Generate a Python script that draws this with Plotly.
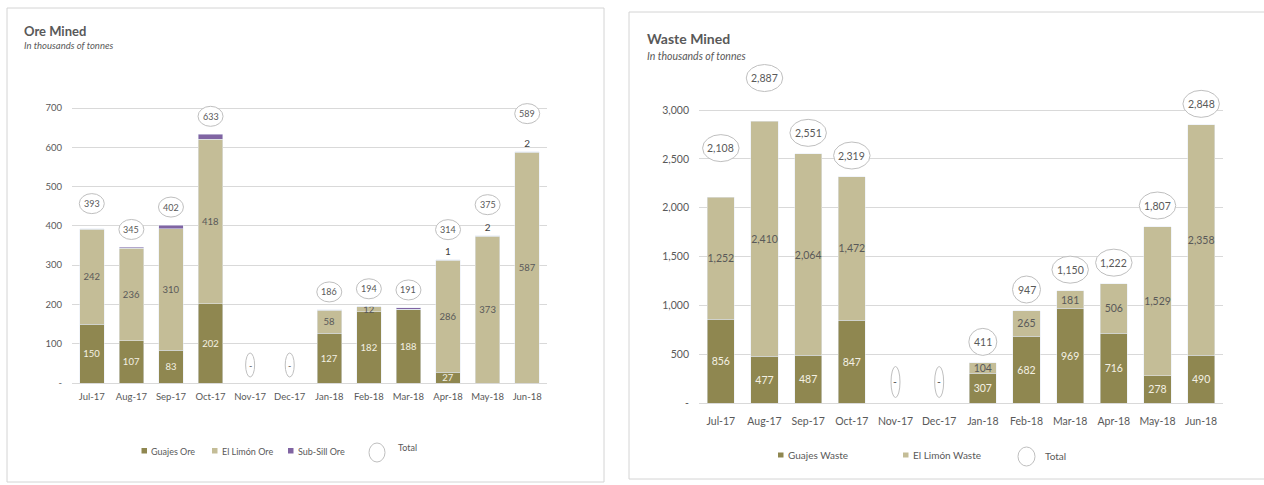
import plotly.graph_objects as go

# ---------------- data ----------------
months = ["Jul-17", "Aug-17", "Sep-17", "Oct-17", "Nov-17", "Dec-17",
          "Jan-18", "Feb-18", "Mar-18", "Apr-18", "May-18", "Jun-18"]

guajes_ore = [150, 107, 83, 202, 0, 0, 127, 182, 188, 27, 0, 0]
el_limon_ore = [242, 236, 310, 418, 0, 0, 58, 12, 0, 286, 373, 587]
sub_sill_ore = [1, 2, 9, 13, 0, 0, 1, 0, 3, 1, 2, 2]
ore_totals = [393, 345, 402, 633, 0, 0, 186, 194, 191, 314, 375, 589]

guajes_waste = [856, 477, 487, 847, 0, 0, 307, 682, 969, 716, 278, 490]
el_limon_waste = [1252, 2410, 2064, 1472, 0, 0, 104, 265, 181, 506, 1529, 2358]
waste_totals = [2108, 2887, 2551, 2319, 0, 0, 411, 947, 1150, 1222, 1807, 2848]

ore_yticks = [0, 100, 200, 300, 400, 500, 600, 700]
waste_yticks = [0, 500, 1000, 1500, 2000, 2500, 3000]

# months whose Sub-Sill value is printed above the bar
subsill_labelled = ["Apr-18", "May-18", "Jun-18"]

# ---------------- layout constants ----------------
W, H = 1264, 485
FONT = "Lato, Carlito, Calibri, sans-serif"
GREY_TXT = "#595959"
DARK_TXT = "#404040"
GRID = "#D9D9D9"
BORDER = "#D4D4D4"
C_GUAJES = "#8F8750"
C_LIMON = "#C4BD97"
C_SUBSILL = "#8064A2"
ELLIPSE_LINE = "#BFBFBF"
INBAR_LIGHT = "#F4F1E4"

# pixel geometry of the two plot areas
ORE = dict(left=72, right=547, zero=383, top_tick=108, ymax=780)
WST = dict(left=699, right=1223, zero=403, top_tick=110, ymax=3600)

# vertical lift (px) of the total bubbles above the bar tops
ORE_LIFT_DEFAULT = 18
ORE_LIFT = {"Jul-17": 25, "Apr-18": 30, "May-18": 31, "Jun-18": 38}
WST_LIFT_DEFAULT = 21
WST_LIFT = {"Jul-17": 49, "Aug-17": 43}


def fx(px):
    return px / W


def fy(py):
    return 1 - py / H


def fmt(v):
    return f"{v:,}" if v else "-"


def seg_text(vals):
    return [f"{v:,}" if v else "" for v in vals]


def domain_y(g, top_val):
    ppu = (g["zero"] - g["top_tick"]) / top_val
    top_px = g["zero"] - g["ymax"] * ppu
    return [fy(g["zero"]), fy(top_px)]


fig = go.Figure()

bar_common = dict(textposition="inside", insidetextanchor="middle", textangle=0,
                  constraintext="none", showlegend=False, hoverinfo="x+y+name")

# ---------------- Ore Mined ----------------
fig.add_trace(go.Bar(x=months, y=guajes_ore, name="Guajes Ore", marker_color=C_GUAJES,
                     text=seg_text(guajes_ore),
                     textfont=dict(family=FONT, size=9.5, color=INBAR_LIGHT),
                     xaxis="x", yaxis="y", **bar_common))
fig.add_trace(go.Bar(x=months, y=el_limon_ore, name="El Limón Ore", marker_color=C_LIMON,
                     text=seg_text(el_limon_ore),
                     textfont=dict(family=FONT, size=9.5, color=GREY_TXT),
                     xaxis="x", yaxis="y", **bar_common))
fig.add_trace(go.Bar(x=months, y=sub_sill_ore, name="Sub-Sill Ore", marker_color=C_SUBSILL,
                     text=[f"{v:,}" if m in subsill_labelled else "" for m, v in zip(months, sub_sill_ore)],
                     textposition="outside", textangle=0, constraintext="none",
                     textfont=dict(family=FONT, size=10, color=DARK_TXT),
                     cliponaxis=False, showlegend=False,
                     xaxis="x", yaxis="y"))

# ---------------- Waste Mined ----------------
fig.add_trace(go.Bar(x=months, y=guajes_waste, name="Guajes Waste", marker_color=C_GUAJES,
                     text=seg_text(guajes_waste),
                     textfont=dict(family=FONT, size=10.5, color=INBAR_LIGHT),
                     xaxis="x2", yaxis="y2", **bar_common))
fig.add_trace(go.Bar(x=months, y=el_limon_waste, name="El Limón Waste", marker_color=C_LIMON,
                     text=seg_text(el_limon_waste),
                     textfont=dict(family=FONT, size=10.5, color=GREY_TXT),
                     xaxis="x2", yaxis="y2", **bar_common))

annotations = []
shapes = []


def add_totals(totals, xref, yref, lift_default, lift_map, fsize, w_digit, h_bubble):
    for m, tot in zip(months, totals):
        txt = fmt(tot)
        lift = lift_map.get(m, lift_default)
        n_dig = sum(ch.isdigit() for ch in txt)
        n_com = txt.count(",")
        if tot:
            w = 10 + w_digit * n_dig + 2.5 * n_com
            h = h_bubble
        else:
            w = 9
            h = h_bubble + 4
        shapes.append(dict(type="circle", xref=xref, yref=yref,
                           xsizemode="pixel", ysizemode="pixel",
                           xanchor=m, yanchor=tot,
                           x0=-w / 2, x1=w / 2, y0=lift - h / 2, y1=lift + h / 2,
                           fillcolor="white", line=dict(color=ELLIPSE_LINE, width=1),
                           layer="above"))
        annotations.append(dict(x=m, y=tot, xref=xref, yref=yref, text=txt,
                                showarrow=False, yshift=lift, xanchor="center",
                                yanchor="middle",
                                font=dict(family=FONT, size=fsize, color=GREY_TXT)))


add_totals(ore_totals, "x", "y", ORE_LIFT_DEFAULT, ORE_LIFT, 9, 5, 20)
add_totals(waste_totals, "x2", "y2", WST_LIFT_DEFAULT, WST_LIFT, 10.5, 6, 27)

# ---------------- panel frames ----------------
shapes.append(dict(type="rect", xref="paper", yref="paper",
                   x0=fx(7), x1=fx(604), y0=fy(482), y1=fy(8),
                   line=dict(color=BORDER, width=1), fillcolor="rgba(0,0,0,0)", layer="below"))
shapes.append(dict(type="rect", xref="paper", yref="paper",
                   x0=fx(629), x1=fx(1270), y0=fy(479), y1=fy(12),
                   line=dict(color=BORDER, width=1), fillcolor="rgba(0,0,0,0)", layer="below"))

# ---------------- titles ----------------
annotations += [
    dict(text="<b>Ore Mined</b>", x=fx(22), y=fy(31), xref="paper", yref="paper",
         xanchor="left", yanchor="middle", showarrow=False,
         font=dict(family=FONT, size=13, color=GREY_TXT)),
    dict(text="<i>In thousands of tonnes</i>", x=fx(22), y=fy(45.5), xref="paper", yref="paper",
         xanchor="left", yanchor="middle", showarrow=False,
         font=dict(family=FONT, size=9.5, color=GREY_TXT)),
    dict(text="<b>Waste Mined</b>", x=fx(645), y=fy(38.5), xref="paper", yref="paper",
         xanchor="left", yanchor="middle", showarrow=False,
         font=dict(family=FONT, size=14, color=GREY_TXT)),
    dict(text="<i>In thousands of tonnes</i>", x=fx(645), y=fy(56), xref="paper", yref="paper",
         xanchor="left", yanchor="middle", showarrow=False,
         font=dict(family=FONT, size=10.5, color=GREY_TXT)),
]

# ---------------- manual legends ----------------
ore_legend = [("Guajes Ore", C_GUAJES, 141.5), ("El Limón Ore", C_LIMON, 212), ("Sub-Sill Ore", C_SUBSILL, 288)]
for label, col, sx in ore_legend:
    shapes.append(dict(type="rect", xref="paper", yref="paper",
                       x0=fx(sx), x1=fx(sx + 5.5), y0=fy(453.5), y1=fy(448),
                       fillcolor=col, line=dict(width=0)))
    annotations.append(dict(text=label, x=fx(sx + 7.5), y=fy(451), xref="paper", yref="paper",
                            xanchor="left", yanchor="middle", showarrow=False,
                            font=dict(family=FONT, size=9, color=GREY_TXT)))
shapes.append(dict(type="circle", xref="paper", yref="paper",
                   x0=fx(369), x1=fx(385), y0=fy(462), y1=fy(443),
                   fillcolor="white", line=dict(color=ELLIPSE_LINE, width=1)))
annotations.append(dict(text="Total", x=fx(396), y=fy(447), xref="paper", yref="paper",
                        xanchor="left", yanchor="middle", showarrow=False,
                        font=dict(family=FONT, size=9, color=GREY_TXT)))

waste_legend = [("Guajes Waste", C_GUAJES, 778), ("El Limón Waste", C_LIMON, 903)]
for label, col, sx in waste_legend:
    shapes.append(dict(type="rect", xref="paper", yref="paper",
                       x0=fx(sx), x1=fx(sx + 5.5), y0=fy(457.5), y1=fy(452.5),
                       fillcolor=col, line=dict(width=0)))
    annotations.append(dict(text=label, x=fx(sx + 7.5), y=fy(455), xref="paper", yref="paper",
                            xanchor="left", yanchor="middle", showarrow=False,
                            font=dict(family=FONT, size=10, color=GREY_TXT)))
shapes.append(dict(type="circle", xref="paper", yref="paper",
                   x0=fx(1018), x1=fx(1035), y0=fy(466), y1=fy(447),
                   fillcolor="white", line=dict(color=ELLIPSE_LINE, width=1)))
annotations.append(dict(text="Total", x=fx(1043), y=fy(456), xref="paper", yref="paper",
                        xanchor="left", yanchor="middle", showarrow=False,
                        font=dict(family=FONT, size=10, color=GREY_TXT)))


def xaxis_cfg(g, anchor, fsize, standoff):
    return dict(domain=[fx(g["left"]), fx(g["right"])], type="category",
                categoryorder="array", categoryarray=months, range=[-0.5, len(months) - 0.5],
                showgrid=False, zeroline=False, showline=False, ticks="",
                tickfont=dict(family=FONT, size=fsize, color=GREY_TXT),
                ticklabelstandoff=standoff, anchor=anchor, fixedrange=True,
                automargin=False)


def yaxis_cfg(g, anchor, ticks, fsize):
    return dict(domain=domain_y(g, ticks[-1]), range=[0, g["ymax"]],
                tickvals=ticks, ticktext=[fmt(v) for v in ticks],
                showgrid=True, gridcolor=GRID, gridwidth=1,
                zeroline=True, zerolinecolor=GRID, zerolinewidth=1,
                showline=False, ticks="", ticklabelstandoff=9,
                tickfont=dict(family=FONT, size=fsize, color=GREY_TXT),
                anchor=anchor, fixedrange=True, automargin=False)


fig.update_layout(
    width=W, height=H, autosize=False,
    margin=dict(l=0, r=0, t=0, b=0, pad=0, autoexpand=False),
    paper_bgcolor="white", plot_bgcolor="white",
    barmode="stack", bargap=0.38, showlegend=False,
    font=dict(family=FONT, color=GREY_TXT),
    xaxis=xaxis_cfg(ORE, "y", 9.5, 6),
    yaxis=yaxis_cfg(ORE, "x", ore_yticks, 9.5),
    xaxis2=xaxis_cfg(WST, "y2", 10.5, 10),
    yaxis2=yaxis_cfg(WST, "x2", waste_yticks, 10.5),
    shapes=shapes,
    annotations=annotations,
)

# remove the browser's default page margin / scrollbars so the figure sits at (0, 0)
page_js = ("document.documentElement.style.margin='0px';"
           "document.body.style.margin='0px';"
           "document.documentElement.style.overflow='hidden';"
           "document.body.style.overflow='hidden';")
fig.write_html("out.html", post_script=page_js, config={"displayModeBar": False})
